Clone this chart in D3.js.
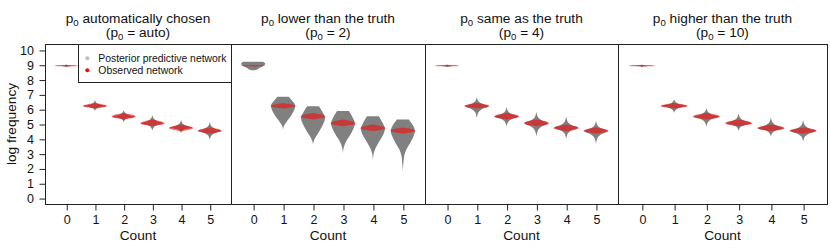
<!DOCTYPE html>
<html><head><meta charset="utf-8">
<script src="https://cdn.jsdelivr.net/npm/d3@7"></script>
<style>
html,body{margin:0;padding:0;background:#fff;}
text{font-family:"Liberation Sans",Arial,Helvetica,sans-serif;fill:#111;}
</style></head>
<body><svg id="c" width="830" height="249"></svg>
<script>
// ---------------- data ----------------
const counts = [0, 1, 2, 3, 4, 5];
const yTicks = [0, 1, 2, 3, 4, 5, 6, 7, 8, 9, 10];
const titleMain = ["automatically chosen", "lower than the truth", "same as the truth", "higher than the truth"];
const titleSub = ["auto", "2", "4", "10"];
const legendLabels = ["Posterior predictive network", "Observed network"];

// posterior predictive violins as [low, mode, high] (log frequency)
const postAuto = [[8.84, 8.93, 9.03], [5.88, 6.22, 6.62], [5.12, 5.50, 5.95], [4.55, 5.05, 5.61], [4.38, 4.75, 5.28], [3.92, 4.53, 5.16]];
const postSame = [[8.84, 8.93, 9.03], [5.39, 6.22, 6.81], [4.82, 5.50, 6.17], [4.15, 5.05, 5.83], [3.99, 4.75, 5.50], [3.65, 4.53, 5.23]];
const postHigh = [[8.85, 8.93, 9.02], [5.75, 6.22, 6.69], [4.82, 5.50, 6.08], [4.53, 5.05, 5.73], [4.15, 4.71, 5.46], [3.81, 4.53, 5.27]];
// p0 = 2: density profiles as [log frequency, relative width]
const postLow = [
  [[8.62, 0], [8.68, 0.35], [8.78, 0.5], [8.90, 0.8], [9.00, 0.97], [9.10, 1], [9.17, 0.9], [9.20, 0.8]],
  [[4.60, 0], [4.85, 0.06], [5.16, 0.3], [5.61, 0.7], [6.00, 0.95], [6.29, 1], [6.60, 0.72], [6.84, 0.48]],
  [[3.58, 0], [3.85, 0.06], [4.15, 0.25], [4.60, 0.58], [5.00, 0.85], [5.41, 1], [5.80, 0.8], [6.20, 0.5]],
  [[3.02, 0], [3.40, 0.06], [3.81, 0.25], [4.26, 0.6], [4.70, 0.88], [5.05, 1], [5.45, 0.8], [5.87, 0.5]],
  [[2.57, 0], [3.00, 0.06], [3.36, 0.22], [3.92, 0.6], [4.35, 0.9], [4.71, 1], [5.10, 0.8], [5.53, 0.5]],
  [[1.78, 0], [2.30, 0.04], [2.91, 0.13], [3.30, 0.3], [3.70, 0.6], [4.15, 0.88], [4.55, 1], [4.90, 0.85], [5.31, 0.5]]
];
// observed network violins as [low, mode, high]
const observed = [[8.87, 8.93, 8.99], [6.05, 6.22, 6.42], [5.30, 5.50, 5.75], [4.85, 5.05, 5.30], [4.52, 4.72, 4.97], [4.35, 4.55, 4.76]];

// ---------------- layout ----------------
const svg = d3.select("#c");
const edges = [45, 231, 425, 618, 827];
const plotTop = 44, plotBottom = 204;
const y = d3.scaleLinear().domain([-0.4, 10.4]).range([plotBottom, plotTop]);
const fsTick = 12.5, fsLab = 13.7, fsLeg = 10.4;

const diamond = [[-1, 0], [-0.75, 0.05], [-0.5, 0.15], [-0.25, 0.45], [-0.1, 0.85], [0, 1], [0.1, 0.85], [0.25, 0.45], [0.5, 0.15], [0.75, 0.05], [1, 0]];
const lens = [[-1, 0], [-0.6, 0.6], [-0.3, 0.9], [0, 1], [0.3, 0.9], [0.6, 0.6], [1, 0]];
function fromSummary(s, tmpl) {
  return tmpl.map(([t, w]) => [t < 0 ? s[1] + t * (s[1] - s[0]) : s[1] + t * (s[2] - s[1]), w]);
}

const postSets = [postAuto.map(s => fromSummary(s, diamond)), postLow, postSame.map(s => fromSummary(s, diamond)), postHigh.map(s => fromSummary(s, diamond))];
const obsShapes = observed.map(s => fromSummary(s, lens));

for (let p = 0; p < 4; p++) {
  const x = d3.scaleLinear().domain([-0.74, 5.74]).range([edges[p], edges[p + 1]]);
  const unit = x(1) - x(0);
  const g = svg.append("g");
  const area = (c, hw) => d3.area().curve(d3.curveCatmullRom.alpha(0.5))
    .y(d => y(d[0])).x0(d => x(c) - d[1] * hw * unit).x1(d => x(c) + d[1] * hw * unit);

  counts.forEach((c, i) => {
    g.append("path").attr("d", area(c, 0.4)(postSets[p][i])).attr("fill", "#808080");
  });
  counts.forEach((c, i) => {
    g.append("path").attr("d", area(c, 0.42)(obsShapes[i])).attr("fill", "rgba(255,0,0,0.55)");
  });

  // frame
  svg.append("rect").attr("x", edges[p] + 0.5).attr("y", plotTop + 0.5)
    .attr("width", edges[p + 1] - edges[p]).attr("height", plotBottom - plotTop)
    .attr("fill", "none").attr("stroke", "#222").attr("stroke-width", 1);

  // x axis
  const ax = svg.append("g").attr("transform", `translate(0.5,${plotBottom + 0.5})`)
    .call(d3.axisBottom(x).tickValues(counts).tickSize(6).tickPadding(5).tickFormat(d3.format("d")));
  ax.select(".domain").remove();
  ax.selectAll("line").attr("stroke", "#222");
  ax.selectAll("text").attr("font-size", fsTick).attr("fill", "#111")
    .attr("font-family", '"Liberation Sans",Arial,sans-serif');

  const cx = (edges[p] + edges[p + 1]) / 2;
  svg.append("text").attr("x", cx).attr("y", 240).attr("text-anchor", "middle")
    .attr("font-size", fsLab).text("Count");

  // titles
  const t1 = svg.append("text").attr("x", cx).attr("y", 23.3).attr("text-anchor", "middle").attr("font-size", fsLab);
  t1.append("tspan").text("p");
  t1.append("tspan").attr("font-size", fsLab * 0.7).attr("dy", 3).text("0");
  t1.append("tspan").attr("dy", -3).text(" " + titleMain[p]);
  const t2 = svg.append("text").attr("x", cx).attr("y", 36.8).attr("text-anchor", "middle").attr("font-size", fsLab);
  t2.append("tspan").text("(p");
  t2.append("tspan").attr("font-size", fsLab * 0.7).attr("dy", 3).text("0");
  t2.append("tspan").attr("dy", -3).text(" = " + titleSub[p] + ")");
}

// y axis
const ay = svg.append("g").attr("transform", `translate(${edges[0] + 0.5},0.5)`)
  .call(d3.axisLeft(y).tickValues(yTicks).tickSize(6).tickPadding(5.5).tickFormat(d3.format("d")));
ay.select(".domain").remove();
ay.selectAll("line").attr("stroke", "#222");
ay.selectAll("text").attr("font-size", fsTick).attr("fill", "#111")
  .attr("font-family", '"Liberation Sans",Arial,sans-serif');
svg.append("text").attr("transform", `translate(16,${(plotTop + plotBottom) / 2}) rotate(-90)`)
  .attr("text-anchor", "middle").attr("font-size", fsLab).text("log frequency");

// legend
const lg = svg.append("g");
lg.append("rect").attr("x", 78.5).attr("y", plotTop + 0.5).attr("width", edges[1] - 78).attr("height", 38)
  .attr("fill", "#fff").attr("stroke", "#222");
const legColors = ["#bdbdbd", "#ff0000"];
legendLabels.forEach((lab, i) => {
  lg.append("circle").attr("cx", 87.3).attr("cy", 58.3 + i * 12).attr("r", 2).attr("fill", legColors[i]);
  lg.append("text").attr("x", 98.3).attr("y", 62 + i * 12).attr("font-size", fsLeg).text(lab);
});
</script></body></html>
